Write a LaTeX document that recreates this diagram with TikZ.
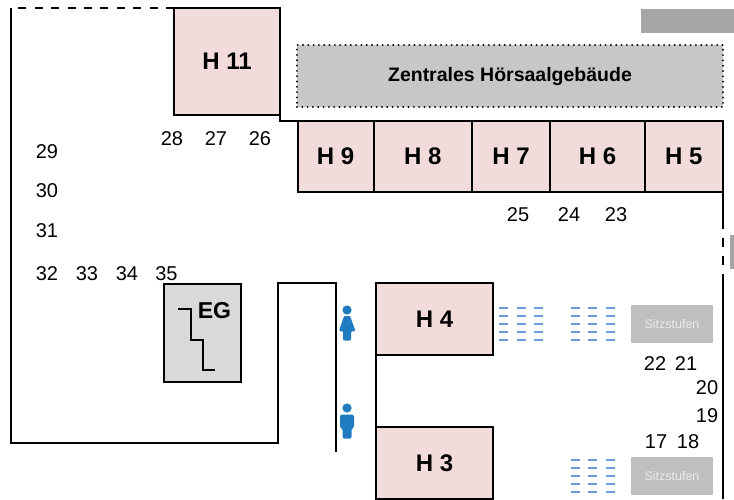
\documentclass[tikz,border=0pt]{standalone}
\usepackage{fontspec}
\setmainfont{Liberation Sans}
\definecolor{roomc}{HTML}{F2DCDB}
\definecolor{hallc}{HTML}{C6C7C9}
\definecolor{egc}{HTML}{D9D9D9}
\definecolor{stufec}{HTML}{BFBFBF}
\definecolor{topc}{HTML}{A6A6A6}
\definecolor{wcblue}{HTML}{1F7CC1}
\definecolor{dashblue}{HTML}{6A9BD8}
\tikzset{
  every node/.style={outer sep=0pt},
  wall/.style={draw=black,line width=2pt},
  room/.style={rectangle,draw=black,line width=2pt,fill=roomc,inner sep=0pt,font=\fontsize{24}{24}\selectfont\bfseries},
  num/.style={inner sep=0pt,font=\fontsize{20}{20}\selectfont},
  stufe/.style={rectangle,fill=stufec,text=white!92!black,inner sep=0pt,font=\fontsize{12.5}{12.5}\selectfont},
  bench/.style={draw=dashblue,line width=1.7pt}
}
\newcommand{\roomat}[6]{\node[room,minimum width=#4pt-#2pt,minimum height=#5pt-#3pt,anchor=north west] (#1) at (#2,#3) {\raisebox{-0.8pt}{#6}};}
\newcommand{\benchgroup}[2]{%
  \foreach \dx in {0,17.6,35.2}{\foreach \dy in {0,8,16,24,32}{
    \draw[bench] (#1+\dx,#2+\dy) -- ++(9,0);}}}
\newcommand{\personhead}[2]{\fill[wcblue] (#1,#2) circle (4.6);}
\begin{document}
\begin{tikzpicture}[x=1pt,y=-1pt]
\useasboundingbox (0,0) rectangle (734,499);
% top right gray
\node[rectangle,fill=topc,minimum width=93pt,minimum height=24pt,inner sep=0pt,anchor=north west] (topbar) at (641,9) {};
\node[rectangle,fill=topc,minimum width=4pt,minimum height=34pt,inner sep=0pt,anchor=north west] (sidebar) at (730,235) {};
% outer walls
\coordinate (w0) at (11,8);
\coordinate (w1) at (11,443);
\coordinate (w2) at (278,443);
\coordinate (w3) at (278,283);
\coordinate (w4) at (335.5,283);
\coordinate (w5) at (335.5,452);
\draw[wall] (w0) -- (w1) -- (w2) -- (w3) -- (w4) -- (w5);
\draw[wall,dash pattern=on 8pt off 8.4pt] (174,8) -- (w0);
% right wall
\coordinate (r0) at (722.5,192);
\coordinate (r1) at (722.5,499);
\draw[wall] (r0) -- (r1);
\draw[white,line width=2.2pt,dash pattern=on 9pt off 9pt] (722.5,229) -- (722.5,274);
% rooms
\roomat{h11}{174}{8}{280}{115}{H 11}
\coordinate (s0) at (297.5,121);
\draw[wall] (h11.south east) -- (280,121) -- (s0);
\node[rectangle,draw=black,fill=hallc,line width=2.2pt,dash pattern=on 0.01pt off 5.3pt,line cap=round,inner sep=0pt,minimum width=426pt,minimum height=62pt,anchor=north west,font=\fontsize{19.5}{19.5}\selectfont\bfseries] (zh) at (297,45) {\raisebox{-2.5pt}{Zentrales Hörsaalgebäude}};
\roomat{h9}{297.5}{121}{373.5}{192}{H 9}
\roomat{h8}{373.5}{121}{472}{192}{H 8}
\roomat{h7}{472}{121}{550}{192}{H 7}
\roomat{h6}{550}{121}{645}{192}{H 6}
\roomat{h5}{645}{121}{722.5}{192}{H 5}
\roomat{h4}{376}{283}{493}{355}{H 4}
\roomat{h3}{376}{427}{493}{499}{H 3}
\draw[wall] (h4.south west) -- (h3.north west);
% EG
\node[rectangle,draw=black,fill=egc,line width=2pt,minimum width=77pt,minimum height=98pt,inner sep=0pt,anchor=north west] (eg) at (164,284) {};
\node[inner sep=0pt,font=\fontsize{23}{23}\selectfont\bfseries] (eglabel) at (214.5,310.5) {EG};
\draw[wall] (178,309) -- (191,309) -- (191,340) -- (203,340) -- (203,370) -- (215,370);
% persons
\personhead{347}{310}
\fill[wcblue,rounded corners=0.8pt] (344,316) -- (350,316) -- (355.5,331) -- (351,331.5) -- (351,340) -- (350,340.5) -- (344,340.5) -- (343,340) -- (343,331.5) -- (339,331) -- cycle;
\personhead{347}{408}
\fill[wcblue,rounded corners=1.5pt] (340,414.5) -- (354,414.5) -- (354,428) -- (351.5,428) -- (351.5,438.5) -- (342.5,438.5) -- (342.5,428) -- (340,428) -- cycle;
% benches
\benchgroup{499}{308}
\benchgroup{570.5}{308}
\benchgroup{570.5}{460}
% Sitzstufen
\node[stufe,minimum width=82pt,minimum height=38pt,anchor=north west] (s1) at (631,305) {Sitzstufen};
\node[stufe,minimum width=82pt,minimum height=38pt,anchor=north west] (s2) at (631,457) {Sitzstufen};
% numbers
\node[num] (n29) at (47,151.7) {29};
\node[num] (n30) at (47,190.7) {30};
\node[num] (n31) at (47,230.7) {31};
\node[num] (n32) at (47,273.7) {32};
\node[num] (n33) at (87,273.7) {33};
\node[num] (n34) at (127,273.7) {34};
\node[num] (n35) at (166.5,273.7) {35};
\node[num] (n28) at (172,138.7) {28};
\node[num] (n27) at (216,138.7) {27};
\node[num] (n26) at (260,138.7) {26};
\node[num] (n25) at (518,214.7) {25};
\node[num] (n24) at (569,214.7) {24};
\node[num] (n23) at (616,214.7) {23};
\node[num] (n22) at (655,363.7) {22};
\node[num] (n21) at (686,363.7) {21};
\node[num] (n20) at (707,387.7) {20};
\node[num] (n19) at (707,415.7) {19};
\node[num] (n17) at (656,441.7) {17};
\node[num] (n18) at (688,441.7) {18};
\end{tikzpicture}
\end{document}
